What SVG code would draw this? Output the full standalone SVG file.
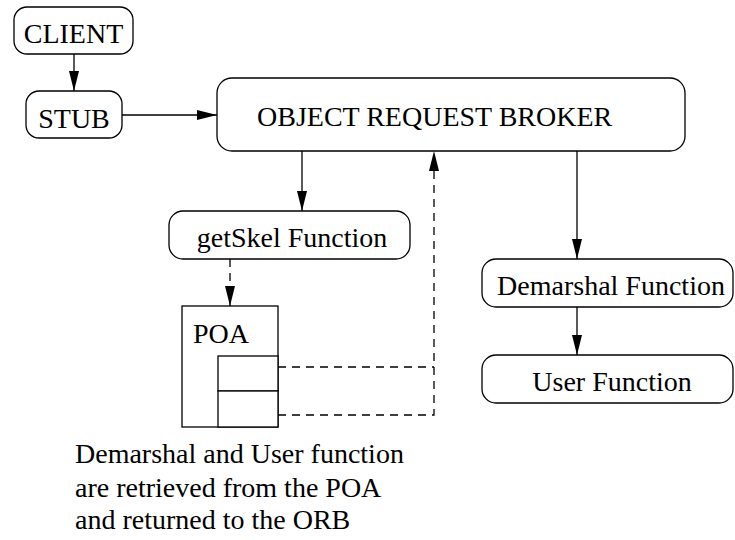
<svg xmlns="http://www.w3.org/2000/svg" width="735" height="540" viewBox="0 0 735 540">
<defs>
<style>
.box{fill:#fff;stroke:#000;stroke-width:1.3}
.t{font-family:"Liberation Serif","Times New Roman",serif;font-size:28px;fill:#000}
.c{text-anchor:middle}
.ln{fill:none;stroke:#000;stroke-width:1.3}
.d{stroke-dasharray:8,6}
</style>
<marker id="ah" markerUnits="userSpaceOnUse" markerWidth="20" markerHeight="10" refX="20" refY="5" orient="auto">
<path d="M0,0 L20,5 L0,10 z" fill="#000"/>
</marker>
</defs>
<rect width="735" height="540" fill="#fff"/>
<g id="connectors">
<line class="ln" x1="74" y1="54" x2="74" y2="91" marker-end="url(#ah)"/>
<line class="ln" x1="122" y1="115" x2="217" y2="115" marker-end="url(#ah)"/>
<line class="ln" x1="302" y1="151" x2="302" y2="211" marker-end="url(#ah)"/>
<line class="ln d" x1="230" y1="259" x2="230" y2="306" marker-end="url(#ah)"/>
<line class="ln" x1="577" y1="151" x2="577" y2="259" marker-end="url(#ah)"/>
<line class="ln" x1="577" y1="307" x2="577" y2="355" marker-end="url(#ah)"/>
<polyline class="ln d" points="278,367 434,367"/>
<polyline class="ln d" points="278,415 434,415 434,151" marker-end="url(#ah)"/>
</g>
<g id="client">
<rect class="box" x="14" y="7" width="119" height="47" rx="13"/>
<text class="t c" x="73.5" y="43">CLIENT</text>
</g>
<g id="stub">
<rect class="box" x="26" y="91" width="96" height="47" rx="13"/>
<text class="t c" x="74" y="128">STUB</text>
</g>
<g id="orb">
<rect class="box" x="217" y="78" width="468" height="73" rx="15"/>
<text class="t" x="257" y="126">OBJECT REQUEST BROKER</text>
</g>
<g id="getskel">
<rect class="box" x="169" y="211" width="241" height="48" rx="14"/>
<text class="t c" x="292" y="247">getSkel Function</text>
</g>
<g id="poa">
<rect class="box" x="182" y="306" width="96" height="121"/>
<text class="t" x="193" y="343">POA</text>
<rect class="box" x="218" y="356" width="60" height="35"/>
<rect class="box" x="218" y="391" width="60" height="36"/>
</g>
<g id="demarshal">
<rect class="box" x="482" y="259" width="251" height="48" rx="14"/>
<text class="t c" x="611" y="295">Demarshal Function</text>
</g>
<g id="user">
<rect class="box" x="482" y="355" width="251" height="48" rx="14"/>
<text class="t c" x="612" y="391">User Function</text>
</g>
<g id="note">
<text class="t" x="75" y="463">Demarshal and User function</text>
<text class="t" x="75" y="497">are retrieved from the POA</text>
<text class="t" x="75" y="529">and returned to the ORB</text>
</g>
</svg>
